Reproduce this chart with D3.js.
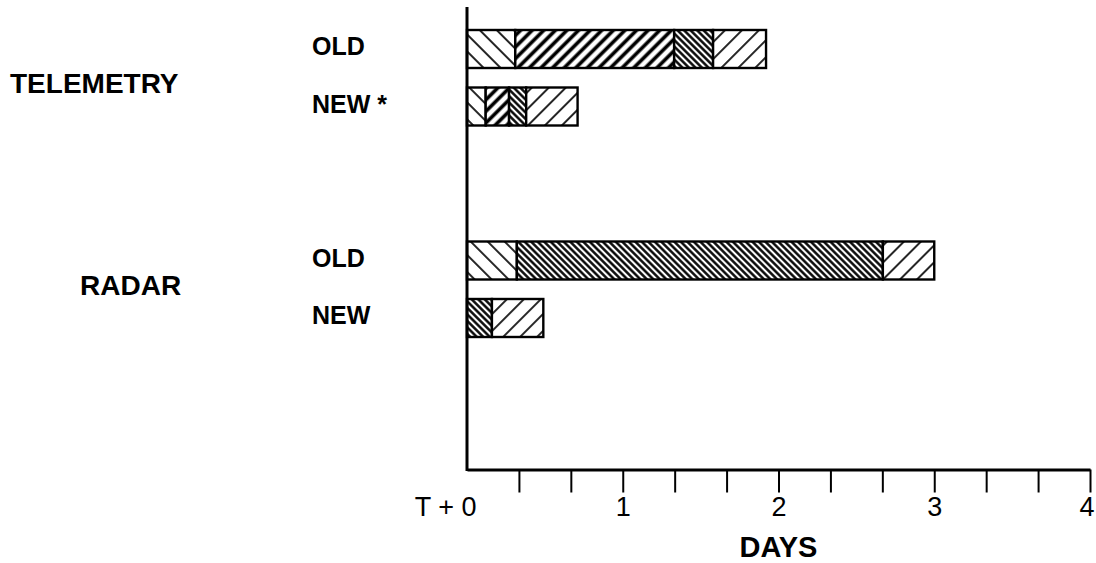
<!DOCTYPE html>
<html>
<head>
<meta charset="utf-8">
<script src="https://cdn.jsdelivr.net/npm/d3@7"></script>
<style>
  html, body { margin: 0; padding: 0; background: #fff; }
  svg { display: block; font-family: "Liberation Sans", Arial, Helvetica, sans-serif; }
</style>
</head>
<body>
<svg id="chart" width="1096" height="563"></svg>
<script>
// ---- data (days) ----
const groups = ["TELEMETRY", "RADAR"];
const versions = ["OLD", "NEW"];
const rowGroup = ["TELEMETRY", "TELEMETRY", "RADAR", "RADAR"];
const rowVersion = ["OLD", "NEW", "OLD", "NEW"];
const rowLabels = ["OLD", "NEW *", "OLD", "NEW"];
// phase durations per row, in days
const phaseKeys = ["p1", "p2", "p3", "p4"];
const phase1 = [0.31, 0.12, 0.32, 0.00]; // sparse back-hatch
const phase2 = [1.02, 0.15, 0.00, 0.00]; // bold forward hatch
const phase3 = [0.25, 0.11, 2.35, 0.16]; // dense back-hatch
const phase4 = [0.34, 0.33, 0.33, 0.33]; // sparse forward hatch
const tickValuesDays = d3.range(0, 13).map(i => i / 3);
const tickLabels = ["T + 0", "1", "2", "3", "4"];
const axisTitle = "DAYS";

// ---- build table ----
const rows = rowGroup.map((g, i) => ({
  group: g, version: rowVersion[i], label: rowLabels[i],
  p1: phase1[i], p2: phase2[i], p3: phase3[i], p4: phase4[i]
}));
const stacked = d3.stack().keys(phaseKeys)(rows);

const svg = d3.select("#chart");
const x = d3.scaleLinear().domain([0, 4]).range([467, 1090]);
const yGroup = d3.scalePoint().domain(groups).range([77.75, 289.25]);
const yVer = d3.scalePoint().domain(versions).range([-28.75, 28.75]);
const barH = 38;
const yC = r => yGroup(r.group) + yVer(r.version);

// ---- patterns ----
const defs = svg.append("defs");
const patSpec = {
  p1: { rot: -45, w: 12, sw: 1.7 },
  p2: { rot: 45, w: 8.2, sw: 3.6 },
  p3: { rot: -45, w: 4.6, sw: 2.4 },
  p4: { rot: 45, w: 12, sw: 1.7 }
};
Object.entries(patSpec).forEach(([k, s]) => {
  const p = defs.append("pattern")
    .attr("id", "pat-" + k)
    .attr("patternUnits", "userSpaceOnUse")
    .attr("width", s.w).attr("height", s.w)
    .attr("patternTransform", `rotate(${s.rot})`);
  p.append("rect").attr("width", s.w).attr("height", s.w).attr("fill", "#fff");
  p.append("line")
    .attr("x1", s.w / 2).attr("x2", s.w / 2)
    .attr("y1", -1).attr("y2", s.w + 1)
    .attr("stroke", "#000").attr("stroke-width", s.sw);
});

// ---- bars ----
const gBars = svg.append("g");
stacked.forEach(layer => {
  gBars.selectAll(null)
    .data(layer.filter(d => d[1] - d[0] > 0))
    .enter().append("rect")
    .attr("x", d => x(d[0]))
    .attr("width", d => x(d[1]) - x(d[0]))
    .attr("y", d => yC(d.data) - barH / 2)
    .attr("height", barH)
    .attr("fill", `url(#pat-${layer.key})`)
    .attr("stroke", "#000")
    .attr("stroke-width", 2.4);
});

// ---- axes ----
const axisY = 469.5;
svg.append("line")
  .attr("x1", x(0)).attr("x2", x(0))
  .attr("y1", 7).attr("y2", axisY + 1.5)
  .attr("stroke", "#000").attr("stroke-width", 3);

const xAxis = d3.axisBottom(x)
  .tickValues(tickValuesDays)
  .tickSize(23)
  .tickSizeOuter(0)
  .tickPadding(4)
  .tickFormat(d => {
    const r = Math.round(d);
    return Math.abs(d - r) < 1e-6 ? tickLabels[r] : "";
  });

const gx = svg.append("g")
  .attr("transform", `translate(0,${axisY})`)
  .call(xAxis);
gx.select(".domain").attr("stroke-width", 3).attr("stroke", "#000");
gx.selectAll(".tick line").attr("stroke-width", 2).attr("stroke", "#000")
  .filter(d => d === 0).remove();
gx.selectAll(".tick text")
  .attr("font-size", 27)
  .attr("font-family", "'Liberation Sans', Arial, sans-serif")
  .attr("fill", "#000");
gx.selectAll(".tick text").filter(d => d === 0)
  .attr("text-anchor", "end")
  .attr("dx", 9);
gx.selectAll(".tick text").filter(d => d === 4)
  .attr("text-anchor", "end")
  .attr("dx", 4);

svg.append("text")
  .attr("x", x(2))
  .attr("y", 557)
  .attr("text-anchor", "middle")
  .attr("font-size", 29)
  .attr("font-weight", "bold")
  .text(axisTitle);

// ---- row labels ----
svg.selectAll(".rowlab")
  .data(rows)
  .enter().append("text")
  .attr("class", "rowlab")
  .attr("x", 312)
  .attr("y", d => yC(d) + 6)
  .attr("font-size", 25)
  .attr("font-weight", "bold")
  .text(d => d.label);

// ---- group labels ----
const groupLabelX = { TELEMETRY: 10, RADAR: 80 };
const groupLabelDy = { TELEMETRY: 15, RADAR: 6 };
svg.selectAll(".grplab")
  .data(groups)
  .enter().append("text")
  .attr("class", "grplab")
  .attr("x", d => groupLabelX[d])
  .attr("y", d => yGroup(d) + groupLabelDy[d])
  .attr("font-size", 28)
  .attr("font-weight", "bold")
  .text(d => d);
</script>
</body>
</html>
